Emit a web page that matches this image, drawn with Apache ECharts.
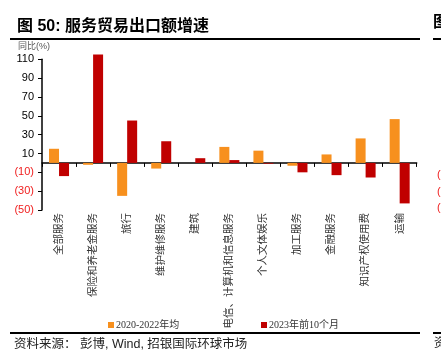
<!DOCTYPE html>
<html><head><meta charset="utf-8">
<script src="https://cdn.jsdelivr.net/npm/echarts@6/dist/echarts.min.js"></script>
<style>html,body{margin:0;padding:0;background:#fff}#c{width:441px;height:360px}</style>
</head><body><div id="c"></div>
<script>
var categories = ['全部服务','保险和养老金服务','旅行','维护维修服务','建筑','电信、计算机和信息服务','个人文体娱乐','加工服务','金融服务','知识产权使用费','运输'];
var avg2020_2022 = [15, -2, -35, -6, 0, 17, 13, -3, 9, 26, 46.5];
var ytd2023 = [-14, 115, 45, 23, 5, 3, -0.8, -10, -13, -15.5, -43];
var seriesNames = ['2020-2022年均', '2023年前10个月'];
var yMin = -50, yMax = 110, yStep = 20;

var cjk = '"Liberation Sans","Noto Sans CJK SC",sans-serif';
var serif = '"Liberation Serif","Noto Sans CJK SC",serif';
var chart = echarts.init(document.getElementById('c'), null, {renderer:'canvas'});
chart.setOption({
  animation:false,
  title:{text:'图 50: 服务贸易出口额增速', left:12, top:14,
    textStyle:{fontSize:16, fontWeight:'bold', color:'#000', fontFamily:cjk}},
  legend:[
    {data:[seriesNames[0]], left:103, top:315, itemWidth:6, itemHeight:6, itemGap:0,
     icon:'rect', textStyle:{fontSize:10, color:'#333', fontFamily:serif, padding:[0,0,0,-3]}},
    {data:[seriesNames[1]], left:256, top:315, itemWidth:6, itemHeight:6, itemGap:0,
     icon:'rect', textStyle:{fontSize:10, color:'#333', fontFamily:serif, padding:[0,0,0,-3]}}
  ],
  grid:{left:42, right:24.3, top:59.3, bottom:150, containLabel:false, outerBoundsMode:'none'},
  xAxis:{type:'category', data:categories,
    axisLine:{onZero:true, lineStyle:{color:'#000', width:1.5}},
    axisTick:{show:true, length:4, lineStyle:{color:'#000', width:1}},
    axisLabel:{rotate:90, margin:3, fontSize:10.5, color:'#333', fontFamily:cjk, interval:0}},
  yAxis:{type:'value', min:yMin, max:yMax, interval:yStep,
    splitLine:{show:false},
    axisLine:{show:true, onZero:false, lineStyle:{color:'#000', width:1.5}},
    axisTick:{show:true, length:4, lineStyle:{color:'#000'}},
    axisLabel:{margin:8, fontSize:11, color:'#000', fontFamily:'"Liberation Sans",Arial,sans-serif',
      formatter:function(v){ return v<0 ? '{n|('+Math.abs(v)+')}' : String(v); },
      rich:{n:{color:'#f02020', fontSize:11, fontFamily:'"Liberation Sans",Arial,sans-serif'}}}},
  series:[
    {name:seriesNames[0], type:'bar', data:avg2020_2022, barWidth:10, barGap:'0%', clip:false,
     itemStyle:{color:'#F7901E'}},
    {name:seriesNames[1], type:'bar', data:ytd2023, barWidth:10, barGap:'0%', clip:false,
     itemStyle:{color:'#C00000'}}
  ],
  graphic:[
    {type:'text', left:18, top:42, style:{text:'同比(%)', fontSize:9, fill:'#555', fontFamily:cjk}},
    {type:'rect', shape:{x:10, y:38, width:410, height:2}, style:{fill:'#000'}},
    {type:'rect', shape:{x:10, y:332, width:410, height:2}, style:{fill:'#000'}},
    {type:'text', left:14, top:338, style:{text:'资料来源： 彭博, Wind, 招银国际环球市场', fontSize:12.5, fill:'#222', fontFamily:cjk}},
    {type:'text', left:433, top:15, style:{text:'图', fontSize:16, fontWeight:'bold', fill:'#000', fontFamily:cjk}},
    {type:'rect', shape:{x:433, y:38, width:10, height:2}, style:{fill:'#000'}},
    {type:'rect', shape:{x:433, y:332, width:10, height:2}, style:{fill:'#000'}},
    {type:'text', left:434, top:338, style:{text:'资', fontSize:12, fill:'#222', fontFamily:cjk}},
    {type:'text', left:437, top:169, style:{text:'(', fontSize:11, fill:'#f02020', fontFamily:'"Liberation Sans",Arial'}},
    {type:'text', left:437, top:186, style:{text:'(', fontSize:11, fill:'#f02020', fontFamily:'"Liberation Sans",Arial'}},
    {type:'text', left:437, top:202, style:{text:'(', fontSize:11, fill:'#f02020', fontFamily:'"Liberation Sans",Arial'}}
  ]
});
</script></body></html>
